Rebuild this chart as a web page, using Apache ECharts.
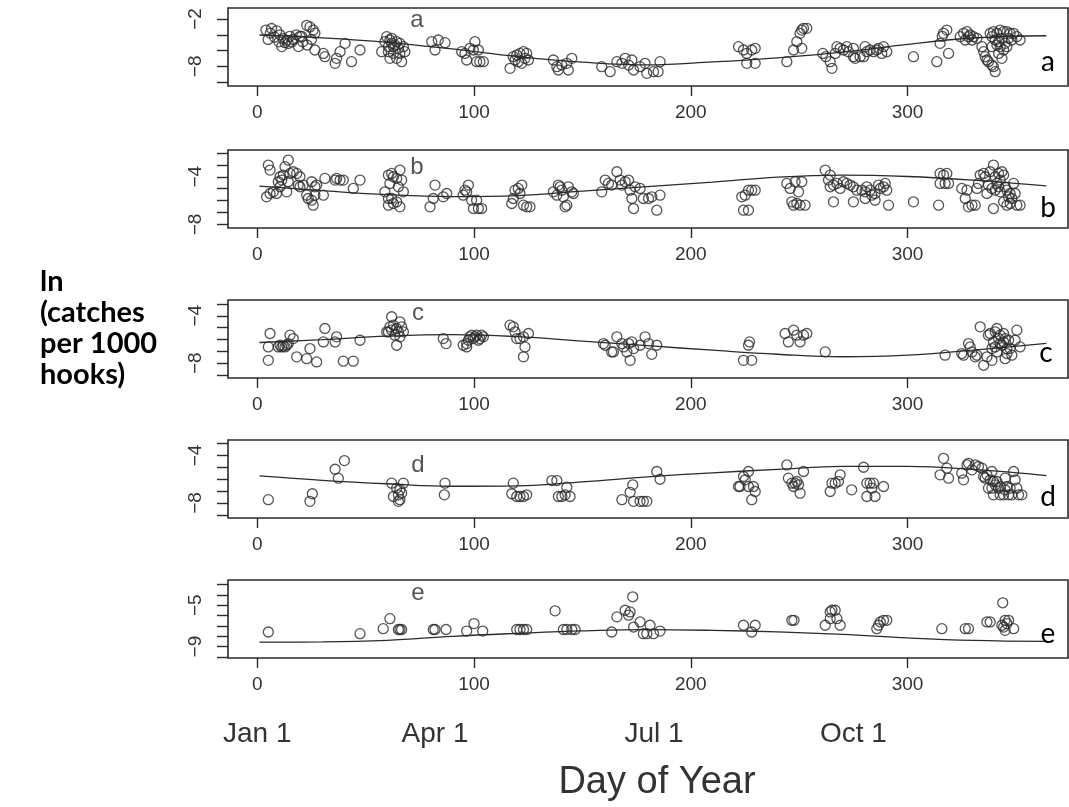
<!DOCTYPE html>
<html><head><meta charset="utf-8">
<script src="https://cdn.jsdelivr.net/npm/echarts@6.0.0/dist/echarts.min.js"></script>
<style>html,body{margin:0;padding:0;background:#fff}#c{width:1069px;height:807px}</style>
</head><body><div id="c"></div>
<script>
// ---------------- DATA ----------------
const panelNames = ['a', 'b', 'c', 'd', 'e'];
const xTickValues = [0, 100, 200, 300];
const monthLabels = ['Jan 1', 'Apr 1', 'Jul 1', 'Oct 1'];
const monthLabelDays = [0, 82, 183, 275];
const xAxisTitle = 'Day of Year';
const yTitleLines = ['ln', '(catches', 'per 1000', 'hooks)'];

const yTicksA = [-10, -8, -6, -4, -2];      const yLabelsA = [-8, -2];
const yTicksB = [-8, -7, -6, -5, -4, -3, -2]; const yLabelsB = [-8, -4];
const yTicksC = [-9, -8, -7, -6, -5, -4, -3]; const yLabelsC = [-8, -4];
const yTicksD = [-9, -8, -7, -6, -5, -4, -3]; const yLabelsD = [-8, -4];
const yTicksE = [-10, -9, -8, -7, -6, -5, -4, -3]; const yLabelsE = [-9, -5];

const curveDays = [1, 30, 60, 90, 120, 150, 180, 210, 240, 270, 300, 330, 364];
const curveA = [-4.03, -4.38, -4.95, -5.8, -6.77, -7.47, -7.83, -7.45, -6.92, -6.21, -5.21, -4.41, -4.12];
const curveB = [-4.78, -5.16, -5.5, -5.66, -5.58, -5.2, -4.82, -4.45, -4.03, -3.86, -3.98, -4.28, -4.76];
const curveC = [-6.25, -6.01, -5.72, -5.59, -5.76, -6.14, -6.52, -6.9, -7.24, -7.45, -7.32, -6.9, -6.33];
const curveD = [-5.72, -6.09, -6.38, -6.59, -6.55, -6.22, -5.8, -5.46, -5.17, -4.92, -4.92, -5.17, -5.69];
const curveE = [-8.57, -8.55, -8.4, -8.01, -7.72, -7.48, -7.36, -7.43, -7.58, -7.82, -8.16, -8.4, -8.5];

const pointsA = [
[4,-3.4],[6.6,-3.2],[9,-3.5],[6,-3.8],[5,-4.6],[8,-4.3],[10.5,-4],[10,-4.9],[12,-4.5],[11.3,-5.5],[13.6,-4.7],[15,-4.2],[14.3,-5.1],[16.6,-4.6],[18,-4],[19.7,-4.2],[19,-5.5],[21,-4.9],[22.8,-2.8],[24.3,-3],[25.8,-3.4],[26.6,-3.8],[25,-4.6],[23,-5.3],[20.5,-4.2],[16,-4.9],[12.8,-5],
[26.6,-5.93],[30.5,-6.36],[31.2,-6.78],[35.9,-7.62],[36.6,-6.99],[38.2,-6.14],[40.5,-5.09],[43.5,-7.41],[47.4,-5.93],
[59.7,-4.24],[61.2,-4.66],[58.9,-4.88],[62,-5.09],[64.3,-4.88],[65.8,-5.09],[62.8,-5.51],[65.1,-5.72],[67.4,-5.51],[57.4,-6.14],[60.5,-6.14],[62.8,-6.36],[65.8,-6.36],[68.1,-6.14],[61.2,-6.99],[64.3,-6.99],[66.6,-7.41],[63.5,-5.3],[60.5,-5.51],[62,-4.45],
[80.5,-4.88],[82,-5.93],[83.5,-4.66],[86.6,-5],
[94.3,-6.14],[95.8,-6.36],[96.6,-7.2],[98.1,-5.72],[100.4,-4.88],[99.7,-5.93],[101.2,-7.41],[102.7,-7.41],[104.3,-7.41],[102,-5.93],
[116.6,-8.26],[118.1,-6.78],[118.9,-7.2],[119.7,-6.57],[120.4,-7.41],[121.2,-6.36],[122,-7.62],[122.8,-6.14],[123.5,-6.99],[124.3,-6.36],[125.1,-7.2],
[136.6,-7.2],[138.2,-8.05],[138.9,-8.47],[140.5,-7.84],[142.8,-7.62],[143.5,-8.47],[145.1,-6.99],
[158.9,-8.05],[162.8,-8.68],[165.9,-7.41],[168.2,-7.62],[169.7,-6.99],[171.3,-7.84],[172.8,-7.2],[173.6,-8.47],[176.6,-8.05],[178.9,-7.62],[179.7,-8.89],[182.8,-8.68],[184.9,-8.68],[185.8,-7.41],
[222,-5.51],[224.3,-5.93],[225.8,-6.36],[228.1,-5.93],[229.7,-5.72],[225.8,-7.62],[229.7,-7.62],[244.3,-7.41],
[247.4,-5.93],[248.9,-4.88],[250.4,-3.82],[251.2,-3.4],[251.2,-5.72],[252,-3.18],[253.5,-3.18],
[260.9,-6.36],[262.3,-6.78],[264.3,-7.41],[265.1,-8.26],[266.6,-6.36],[267.4,-5.51],[268.9,-5.72],[270.4,-5.93],[272,-5.51],[272.7,-6.14],[275,-5.72],[275.8,-6.99],[278.1,-6.78],[279.7,-6.78],[280.4,-5.51],[281.2,-6.14],[282.7,-5.93],[284.3,-6.14],[285.8,-5.93],[286.6,-5.72],[288.1,-6.36],[288.9,-5.51],[290.4,-6.14],[275,-6.78],
[302.7,-6.78],[313.5,-7.41],[316.6,-3.82],[318.1,-3.4],[315,-5.09],[318.9,-6.36],[316,-4.2],
[324.3,-4.24],[325.8,-3.82],[327.4,-3.61],[328.9,-4.03],[330.4,-4.24],[332,-4.45],[326.6,-4.66],[329.7,-4.66],[328.1,-4.24],
[334.3,-5.51],[335.1,-6.14],[335.8,-6.78],[336.6,-7.2],[337.3,-7.41],[338.9,-7.84],[339.6,-8.05],[340.4,-8.68],[338.1,-3.82],[339.6,-3.61],[341.2,-3.82],[342.7,-3.4],[344.3,-3.61],[345.8,-3.61],[347.3,-3.82],[348.9,-3.82],[350.4,-4.24],[351.9,-4.66],[338.9,-4.24],[340.4,-4.66],[342,-4.88],[343.5,-4.45],[345,-5.09],[346.6,-4.45],[348.1,-4.66],[342.7,-5.51],[344.3,-5.93],[342,-6.36],[343.5,-6.99],[341.2,-5.3],[338.9,-5.51],[345.8,-5.51]
];

const pointsB = [
[5.1,-3.02],[5.9,-3.44],[4.3,-5.68],[5.9,-5.4],[7.4,-5.26],[8.9,-5.4],[10.5,-4.84],[11.3,-4.28],[12,-3.86],[12.8,-3.16],[14.3,-2.6],[13.6,-5.26],[15.1,-3.72],[16.6,-3.58],[18.2,-3.72],[18.9,-4.7],[14.3,-4.42],[10.5,-4],[19.7,-4.84],[21.2,-4.7],[22.8,-5.54],[23.5,-5.82],[25.1,-5.96],[25.8,-6.38],[26.6,-5.54],[25.1,-4.42],[26.6,-4.84],[27.4,-4.7],[30.5,-5.54],[31.2,-4.14],[35.9,-4.28],[36.6,-4.14],[38.2,-4.28],[39.7,-4.28],[44.3,-4.98],[47.4,-4.28],[9.7,-4.42],[19.7,-4],
[58.9,-5.26],[60.5,-3.86],[61.2,-4.56],[62,-3.72],[62.8,-4],[64.3,-4.14],[65.8,-3.44],[66.6,-4.28],[67.4,-5.26],[65.1,-4.84],[60.5,-5.82],[60.5,-6.38],[62.8,-6.24],[64.3,-6.1],[65.8,-6.52],[62,-5.82],
[79.7,-6.52],[81.2,-5.82],[82,-4.7],[85.8,-5.68],[87.4,-5.4],
[95,-5.54],[95.8,-5.12],[97.4,-4.7],[96.6,-5.26],[98.9,-5.96],[99.7,-6.66],[102,-6.66],[101.2,-5.96],[103.5,-6.66],
[117.4,-6.24],[118.1,-5.82],[118.9,-5.12],[120.4,-4.98],[122,-4.7],[122.8,-6.38],[124.3,-6.52],[125.8,-6.52],[121.2,-5.4],
[136.6,-5.26],[138.2,-5.54],[139.7,-4.84],[140.5,-5.12],[141.2,-5.68],[142.8,-6.38],[142,-6.52],[143.5,-4.84],[145.1,-5.26],[145.8,-5.4],[138.9,-4.7],
[158.9,-5.26],[160.5,-4.28],[162,-4.56],[163.5,-4.7],[165.9,-3.58],[167.4,-4.28],[168.2,-4.7],[169.7,-4.42],[171.3,-4.28],[172,-5.12],[172.8,-5.82],[173.6,-6.66],[174.3,-4.84],[176.6,-4.98],[178.1,-5.82],[180.5,-5.82],[182,-5.68],[184.3,-6.8],[185.8,-5.54],
[223.5,-5.68],[225.1,-5.54],[226.6,-5.12],[228.1,-5.12],[229.7,-5.12],[224.3,-6.8],[226.6,-6.8],
[244.3,-4.56],[245.8,-4.98],[248.1,-4.42],[249.7,-5.26],[251.2,-4.42],[246.6,-6.1],[248.9,-6.24],[250.4,-6.38],[252.7,-6.38],[247.4,-6.38],
[262,-3.44],[264.3,-3.86],[263.5,-4.28],[265.8,-4.7],[264.3,-4.84],[267.4,-4.56],[268.9,-4.98],[270.4,-4.42],[272,-4.56],[273.5,-4.7],[275,-4.84],[276.6,-5.12],[278.9,-5.12],[280.4,-5.26],[281.2,-4.84],[282.7,-5.12],[283.5,-5.54],[285,-5.4],[286.6,-4.7],[287.4,-4.98],[288.9,-4.84],[289.7,-4.56],[290.4,-5.12],[265.8,-6.1],[275,-6.1],[280.4,-5.82],[285,-5.96],[291.2,-6.38],
[302.7,-6.1],[314.3,-6.38],[315,-3.72],[316.6,-3.86],[318.1,-3.72],[315,-4.56],[317.3,-4.56],[318.9,-4.56],
[325,-4.98],[326.6,-5.82],[327.4,-5.12],[328.1,-6.52],[329.7,-6.38],[331.2,-6.38],[332,-4.98],[332.7,-4.56],[333.5,-3.86],[335.1,-3.72],[335.8,-4],[336.6,-5.4],[338.1,-3.58],[339.6,-3.02],[340.4,-4],[341.2,-4.56],[342,-3.72],[342.7,-4.28],[343.5,-3.58],[344.3,-3.86],[345,-4.84],[345.8,-5.12],[346.6,-5.68],[347.3,-6.24],[348.1,-5.82],[348.9,-4.56],[349.6,-5.4],[350.4,-6.38],[351.9,-6.38],[339.6,-6.66],[337.3,-4.7],[338.9,-4.98],[342.7,-5.26],[344.3,-6.1],[345.8,-6.38],[347.3,-5.4],[342,-4.84],[340.4,-5.12]
];

const pointsC = [
[5.9,-5.49],[5.1,-6.62],[5.1,-7.75],[9.7,-6.62],[11.3,-6.62],[12.8,-6.62],[13.6,-6.48],[14.3,-6.34],[15.1,-5.63],[16.6,-5.92],[18.2,-7.46],[22.8,-7.61],[24.3,-6.76],[27.4,-7.89],[30.5,-6.2],[31.2,-5.07],[35.9,-6.2],[36.6,-5.77],[39.7,-7.82],[44.3,-7.82],[47.4,-6.06],[10.5,-6.48],[12,-6.55],
[59.7,-5.35],[62,-4.08],[61.2,-4.93],[62.8,-4.79],[64.3,-5.07],[65.8,-4.51],[66.6,-4.93],[65.1,-5.35],[67.4,-5.35],[65.8,-5.77],[63.5,-5.63],[64.3,-6.48],[62,-5.21],[60.5,-5.35],
[85.8,-5.92],[87.1,-6.34],
[95,-6.48],[96.6,-6.34],[97.4,-6.06],[98.1,-5.77],[98.9,-5.63],[99.7,-5.92],[100.5,-5.77],[101.2,-5.63],[102,-6.06],[102.7,-5.92],[103.5,-5.63],[104.3,-5.77],[96.6,-6.62],
[116.6,-4.79],[118.1,-4.93],[118.9,-5.35],[119.7,-5.92],[121.2,-5.92],[122.8,-5.77],[123.5,-6.62],[125.1,-5.49],[122.8,-7.46],
[159.7,-6.34],[160.5,-6.48],[163.5,-7.04],[164.3,-7.04],[165.9,-5.77],[168.2,-6.34],[169,-6.62],[170.5,-7.04],[171.3,-6.34],[172,-7.75],[172.8,-6.2],[173.6,-6.76],[176.6,-6.48],[178.9,-5.77],[180.5,-6.34],[182,-7.25],[184.3,-6.48],
[226.6,-6.48],[227.1,-6.2],[224.3,-7.75],[228.1,-7.75],
[243.5,-5.49],[245,-6.2],[247.4,-5.21],[248.9,-5.63],[250.4,-6.2],[252,-5.63],[253.5,-5.49],[262,-7.04],
[317.3,-7.32],[325,-7.18],[325.8,-7.32],[328.1,-6.34],[328.9,-6.62],[329.7,-7.04],[331.2,-7.46],[332,-7.32],[333.5,-4.93],[335.1,-8.17],[336.6,-7.46],[337.3,-5.63],[338.1,-5.49],[338.9,-7.75],[339.6,-6.2],[340.4,-6.62],[341.2,-5.07],[342,-5.92],[342.7,-6.34],[343.5,-6.48],[344.3,-5.49],[345,-7.61],[345.8,-7.18],[346.6,-6.06],[347.3,-6.76],[348.1,-7.32],[349.6,-6.06],[350.4,-5.21],[351.9,-6.62],[338.9,-6.76],[341.2,-7.04],[342.7,-5.63],[345,-5.92],[345.8,-6.76],[340.4,-5.35],[344.3,-6.2]
];

const pointsD = [
[5.1,-7.72],[24.3,-7.86],[25.4,-7.22],[35.9,-5.16],[37.4,-5.91],[40.2,-4.43],
[62,-6.33],[64.3,-6.75],[65.8,-6.89],[67.4,-6.33],[62.8,-7.45],[65.1,-7.31],[66.6,-7.17],[65.1,-7.86],[65.8,-7.72],
[86.6,-6.33],[86.3,-7.31],
[118.1,-6.33],[117.4,-7.22],[119.7,-7.45],[121.2,-7.45],[122.8,-7.45],[124.3,-7.31],
[135.9,-6.11],[138.2,-6.11],[142.8,-6.67],[138.9,-7.45],[140.5,-7.45],[144.3,-7.45],[142,-7.31],
[168.2,-7.72],[172,-7.1],[173.2,-6.47],[173.6,-7.86],[176.6,-7.86],[178.1,-7.86],[179.7,-7.86],[184.3,-5.35],[185.8,-6],
[222,-6.61],[222.7,-6.61],[224.3,-5.77],[225.1,-6.05],[226.6,-5.35],[226.6,-6.61],[228.1,-7.72],[228.9,-6.61],[229.7,-7.03],
[244.3,-4.8],[245,-5.91],[246.6,-6.33],[247.4,-6.61],[248.9,-6.19],[249.7,-6.47],[250.4,-7.17],[252,-5.35],[248.1,-6.33],
[264.3,-7.03],[265.1,-6.33],[266.6,-6.33],[268.1,-6.19],[268.9,-5.63],[274.2,-6.89],[279.7,-4.99],
[281.2,-6.33],[282.7,-6.33],[284.3,-6.33],[281.2,-7.45],[285,-7.45],[288.9,-6.61],[283.5,-6.75],
[316.6,-4.24],[318.1,-5.07],[315,-5.63],[318.9,-5.91],
[325,-5.49],[325.8,-6.05],[327.4,-4.8],[328.1,-4.66],[329.7,-5.21],[331.2,-4.8],[332.7,-4.93],[334.3,-5.07],[335.1,-5.77],[335.8,-5.91],[336.6,-5.63],[338.1,-6.05],[338.9,-5.35],[339.6,-6.19],[340.4,-6.47],[341.2,-6.19],[342,-6.75],[342.7,-6.61],[344.3,-7.31],[345,-5.91],[345.8,-6.61],[346.6,-7.31],[347.3,-6.75],[348.1,-7.31],[348.9,-5.35],[349.6,-6.05],[350.4,-6.75],[351.2,-7.31],[352.7,-7.31],[337.3,-6.75],[338.9,-6.75],[339.6,-7.31],[342.7,-7.31],[345,-6.89]
];

const pointsE = [
[5.1,-7.59],[47.4,-7.75],
[58.1,-7.27],[61.2,-6.3],[65.1,-7.35],[65.8,-7.35],[66.6,-7.35],
[81.2,-7.35],[82,-7.35],[87.1,-7.35],
[96.6,-7.5],[100,-6.78],[104,-7.5],
[119.7,-7.35],[121.2,-7.35],[122.8,-7.35],[124.3,-7.35],
[137.4,-5.55],[141.2,-7.35],[142.8,-7.35],[145.1,-7.35],[146.6,-7.35],
[163.5,-7.59],[165.9,-6.13],[169.7,-5.49],[171.3,-5.97],[172,-5.65],[173.2,-4.19],[173.6,-7.11],[176.6,-6.62],[178.1,-7.75],[179.7,-7.75],[181.2,-6.94],[182.8,-7.75],[185.8,-7.5],
[224.3,-6.94],[228.1,-7.59],[229.7,-6.94],
[246.6,-6.46],[247.6,-6.46],
[262,-6.94],[264.3,-5.65],[266.6,-5.49],[264.3,-6.3],[267.4,-6.3],[268.9,-6.94],[265.1,-5.49],
[285.8,-7.27],[286.6,-6.94],[287.4,-6.62],[288.9,-6.46],[290.4,-6.46],
[315.8,-7.27],[326.6,-7.27],[328.1,-7.27],[336.6,-6.62],[338.1,-6.62],[343.9,-4.77],[344.3,-7.11],[345,-6.46],[345.8,-6.78],[346.6,-6.46],[343.5,-6.94],[345,-7.43],[348.9,-7.27]
];

// ---------------- LAYOUT / STYLE ----------------
const panels = [
  { pts: pointsA, curve: curveA, yMin: -10.5, yMax: -0.6, ticks: yTicksA, labels: yLabelsA },
  { pts: pointsB, curve: curveB, yMin: -8.29, yMax: -1.76, ticks: yTicksB, labels: yLabelsB },
  { pts: pointsC, curve: curveC, yMin: -9.24, yMax: -2.67, ticks: yTicksC, labels: yLabelsC },
  { pts: pointsD, curve: curveD, yMin: -9.26, yMax: -2.70, ticks: yTicksD, labels: yLabelsD },
  { pts: pointsE, curve: curveE, yMin: -10.1, yMax: -2.57, ticks: yTicksE, labels: yLabelsE }
];
const gridTops = [8, 150, 300, 440, 580];
const gridHeight = 78;
const X_MIN = -13.5, X_MAX = 374;
const INK = '#2b2b2b';
const TICK_FONT = '"Liberation Sans", Arial, Helvetica, sans-serif';
const minus = v => (v < 0 ? '\u2212' + Math.abs(v) : String(v));

const grid = [], xAxis = [], yAxis = [], series = [];
panels.forEach((p, i) => {
  grid.push({ left: 228, right: 1, top: gridTops[i], height: gridHeight, show: true,
    borderColor: INK, borderWidth: 1.6, backgroundColor: 'transparent', containLabel: false, outerBoundsMode: 'none' });
  xAxis.push({ gridIndex: i, type: 'value', min: X_MIN, max: X_MAX, position: 'bottom',
    axisLine: { show: false, onZero: false }, splitLine: { show: false },
    axisTick: { show: true, inside: false, length: 10, customValues: xTickValues, lineStyle: { color: INK, width: 1.4 } },
    axisLabel: { customValues: xTickValues, margin: 17, fontSize: 19, color: '#333', fontFamily: TICK_FONT } });
  yAxis.push({ gridIndex: i, type: 'value', min: p.yMin, max: p.yMax, position: 'left',
    axisLine: { show: false, onZero: false }, splitLine: { show: false },
    axisTick: { show: true, inside: false, length: 11, customValues: p.ticks, lineStyle: { color: INK, width: 1.4 } },
    axisLabel: { customValues: p.labels, rotate: 90, margin: 23, fontSize: 19, color: '#333', fontFamily: TICK_FONT, formatter: minus } });
  series.push({ type: 'scatter', xAxisIndex: i, yAxisIndex: i, data: p.pts, symbol: 'circle', symbolSize: 10,
    itemStyle: { color: 'rgba(255,255,255,0)', borderColor: INK, borderWidth: 1.3 }, emphasis: { disabled: true }, z: 3 });
  series.push({ type: 'line', xAxisIndex: i, yAxisIndex: i, data: curveDays.map((d, j) => [d, p.curve[j]]),
    smooth: 0.4, symbol: 'none', lineStyle: { color: INK, width: 1.3 }, emphasis: { disabled: true }, z: 2 });
});
// month labels + x title on the bottom panel
xAxis.push({ gridIndex: 4, type: 'value', min: X_MIN, max: X_MAX, position: 'bottom', offset: 56,
  axisLine: { show: false, onZero: false }, axisTick: { show: false }, splitLine: { show: false },
  axisLabel: { customValues: monthLabelDays, margin: 6, fontSize: 28, color: '#333', fontFamily: TICK_FONT,
    formatter: v => monthLabels[monthLabelDays.indexOf(v)] },
  name: xAxisTitle, nameLocation: 'middle', nameGap: 50,
  nameTextStyle: { fontSize: 38, color: '#333', fontFamily: TICK_FONT, padding: [0, 0, 0, 18] } });

const graphic = [];
const innerPos = [[417, 20], [417, 167], [418, 313], [418, 465], [418, 593]];
const outerPos = [[1048, 62], [1048, 208], [1046, 353], [1048, 497], [1048, 634]];
panelNames.forEach((n, i) => {
  graphic.push({ type: 'text', x: innerPos[i][0], y: innerPos[i][1], z: 10,
    style: { text: n, align: 'center', verticalAlign: 'middle', fill: '#555', font: '24px ' + TICK_FONT } });
  graphic.push({ type: 'text', x: outerPos[i][0], y: outerPos[i][1], z: 10,
    style: { text: n, align: 'center', verticalAlign: 'middle', fill: '#000', font: '28px Lato, "Open Sans", sans-serif' } });
});
yTitleLines.forEach((t, k) => {
  graphic.push({ type: 'text', x: 40, y: 282 + 31 * k, z: 10,
    style: { text: t, align: 'left', verticalAlign: 'middle', fill: '#000', font: 'bold 29px Lato, "Open Sans", sans-serif' } });
});

const chart = echarts.init(document.getElementById('c'), null, { renderer: 'canvas' });
chart.setOption({ animation: false, backgroundColor: '#fff', grid, xAxis, yAxis, series, graphic });
</script></body></html>
